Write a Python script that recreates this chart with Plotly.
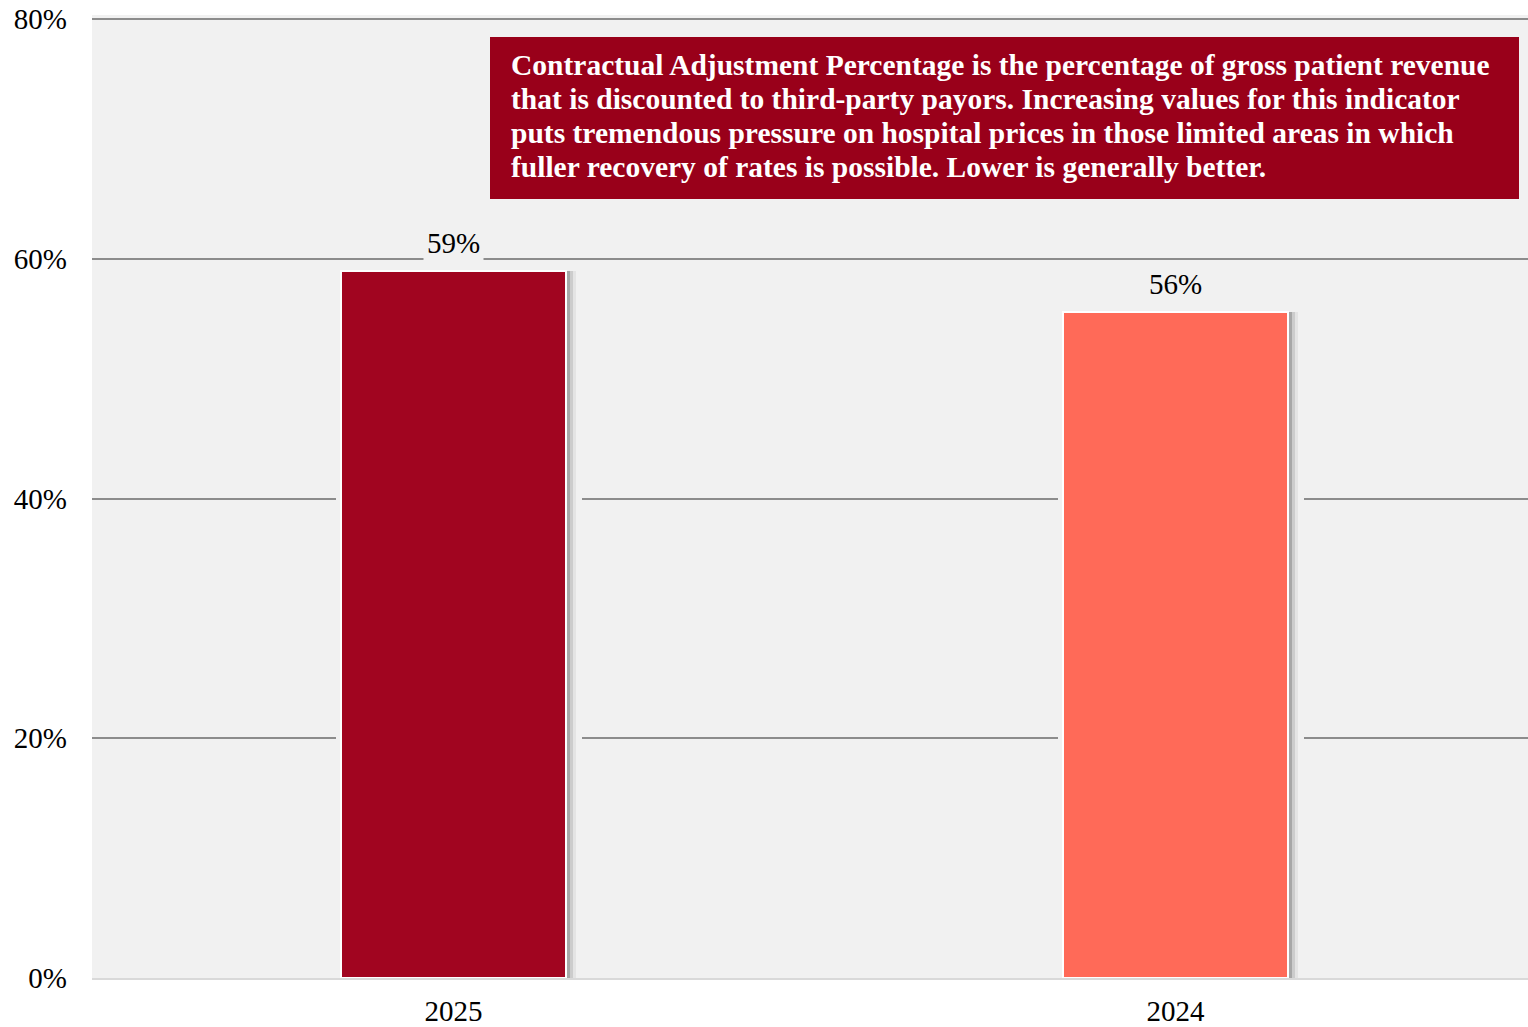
import plotly.graph_objects as go

years = ["2025", "2024"]
values = [59.0, 55.6]
bar_colors = ["#A10520", "#FF6A58"]
y_ticks = [0, 20, 40, 60, 80]
y_tick_text = ["0%", "20%", "40%", "60%", "80%"]
note_lines = [
    "Contractual Adjustment Percentage is the percentage of gross patient revenue",
    "that is discounted to third-party payors. Increasing values for this indicator",
    "puts tremendous pressure on hospital prices in those limited areas in which",
    "fuller recovery of rates is possible. Lower is generally better.",
]

FONT = "Liberation Serif, Times New Roman, serif"
BG = "#F1F1F1"
FIG_W, FIG_H = 1528, 1027
M_L, M_T, M_B = 92, 15, 49
PLOT_W = FIG_W - M_L
PLOT_H = FIG_H - M_T - M_B
Y_MAX = 80 * PLOT_H / 959        # keeps the 80% line 4px under the top edge
CAT_PX = 722                      # pixels between the two category centres
X_RANGE = [-(453.5 - M_L) / CAT_PX, -(453.5 - M_L) / CAT_PX + PLOT_W / CAT_PX]
PX = 1 / CAT_PX
W = 225 * PX


def px_x(x):
    return (x - M_L) / PLOT_W


def px_y(y):
    return (FIG_H - M_B - y) / PLOT_H


fig = go.Figure()

# halo that breaks the gridlines around each bar
fig.add_trace(go.Bar(x=years, y=values, width=W + 21 * PX, offset=-W / 2 - 5 * PX,
                     marker=dict(color=BG, line=dict(width=0)),
                     hoverinfo="skip", showlegend=False))
# soft drop shadow, a few layers fading out
for grow, alpha in [(10, 0.05), (7, 0.10), (4, 0.18)]:
    fig.add_trace(go.Bar(x=years, y=values, width=W + grow * PX, offset=-W / 2,
                         marker=dict(color=f"rgba(0,0,0,{alpha})", line=dict(width=0)),
                         hoverinfo="skip", showlegend=False))
# main bars
fig.add_trace(go.Bar(x=years, y=values, width=W, offset=-W / 2,
                     marker=dict(color=bar_colors, line=dict(color="white", width=2)),
                     showlegend=False))

# value labels (x given as category index, numeric-looking names confuse it)
for i, v in enumerate(values):
    fig.add_annotation(x=i, y=v, yshift=28, text=f"{round(v)}%", showarrow=False,
                       font=dict(family=FONT, size=29, color="black"),
                       bgcolor=BG, borderpad=3)

# note box
fig.add_shape(type="rect", xref="paper", yref="paper",
              x0=px_x(490), x1=px_x(1519), y0=px_y(199), y1=px_y(37),
              fillcolor="#99001A", line=dict(width=0), layer="above")
for i, line in enumerate(note_lines):
    fig.add_annotation(xref="paper", yref="paper", x=px_x(509), y=px_y(65 + 34 * i),
                       xanchor="left", yanchor="middle", align="left",
                       text=f"<b>{line}</b>", showarrow=False,
                       font=dict(family=FONT, size=29.5, color="white"))

fig.update_layout(
    width=FIG_W, height=FIG_H,
    margin=dict(l=M_L, r=0, t=M_T, b=M_B, autoexpand=False),
    paper_bgcolor="white", plot_bgcolor=BG,
    barmode="overlay", bargap=0,
    font=dict(family=FONT, size=29, color="black"),
)
fig.update_yaxes(range=[0, Y_MAX], tickvals=y_ticks, ticktext=y_tick_text,
                 gridcolor="#8C8C8C", gridwidth=2, zeroline=False,
                 showline=False, ticklabelstandoff=24, automargin=False,
                 tickfont=dict(family=FONT, size=29, color="black"))
fig.update_xaxes(type="category", range=X_RANGE, showline=True,
                 linecolor="#D9D9D9", linewidth=2, showgrid=False,
                 ticklabelstandoff=6, automargin=False,
                 tickfont=dict(family=FONT, size=29, color="black"))

fig.write_html("out.html", config={"displayModeBar": False},
               post_script="document.body.style.margin='0';")
